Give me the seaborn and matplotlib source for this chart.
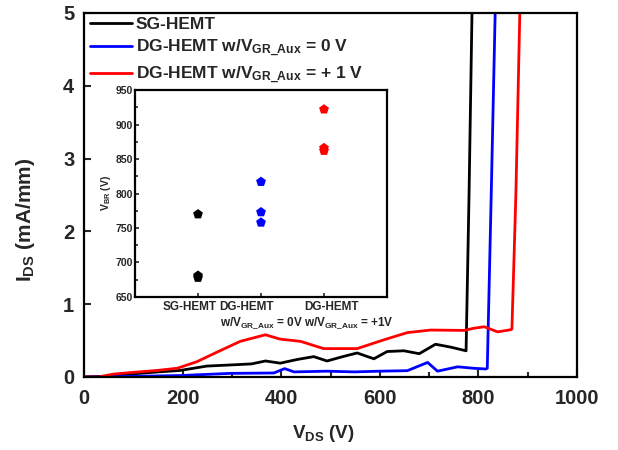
import numpy as np
import pandas as pd
import matplotlib
matplotlib.use("Agg")
import matplotlib.pyplot as plt
from matplotlib.ticker import MultipleLocator
from matplotlib.transforms import ScaledTranslation
import seaborn as sns

# ---- output characteristics (I_DS vs V_DS) ----
v_sg = [0, 40, 93, 150, 195, 249, 311, 340, 368, 398, 432, 466, 493, 525,
        554, 588, 615, 649, 680, 713, 744, 775, 781, 787]
i_sg = [0.0, 0.01, 0.04, 0.07, 0.09, 0.15, 0.17, 0.18, 0.22, 0.19, 0.24, 0.28,
        0.22, 0.28, 0.33, 0.25, 0.35, 0.36, 0.32, 0.45, 0.41, 0.36, 2.5, 5.0]

v_dg0 = [0, 60, 195, 297, 385, 407, 426, 493, 548, 600, 656, 697, 717, 758,
         790, 815, 818, 826, 834]
i_dg0 = [0.0, 0.005, 0.02, 0.05, 0.055, 0.115, 0.07, 0.08, 0.07, 0.08, 0.087,
         0.2, 0.08, 0.14, 0.12, 0.11, 0.12, 2.5, 5.0]

v_dg1 = [0, 30, 60, 93, 148, 189, 229, 263, 317, 368, 398, 439, 486, 554, 608,
         656, 703, 771, 791, 812, 839, 866, 868, 876, 884]
i_dg1 = [0.0, 0.0, 0.04, 0.06, 0.09, 0.12, 0.21, 0.32, 0.49, 0.58, 0.52, 0.49,
         0.39, 0.39, 0.51, 0.61, 0.645, 0.64, 0.67, 0.69, 0.62, 0.65, 0.66, 2.5, 5.0]

series_labels = ["SG-HEMT",
                 r"DG-HEMT w/V$_{GR\_Aux}$ = 0 V",
                 r"DG-HEMT w/V$_{GR\_Aux}$ = + 1 V"]
series_colors = ["#000000", "#0000FF", "#FF0000"]

# ---- breakdown voltage (inset) ----
devices = ["SG-HEMT",
           "DG-HEMT\n" + r"w/V$_{GR\_Aux}$ = 0V",
           "DG-HEMT\n" + r"w/V$_{GR\_Aux}$ = +1V"]
vbr_sg = [770, 678, 681]
vbr_dg0 = [817, 773, 758]
vbr_dg1 = [922, 862, 866]

sns.set_style("ticks")
plt.rcParams["font.family"] = ["Liberation Sans", "DejaVu Sans"]
plt.rcParams["font.weight"] = "bold"
plt.rcParams["axes.labelweight"] = "bold"
plt.rcParams["mathtext.fontset"] = "custom"
plt.rcParams["mathtext.rm"] = "Liberation Sans:bold"
plt.rcParams["mathtext.it"] = "Liberation Sans:bold"
plt.rcParams["mathtext.bf"] = "Liberation Sans:bold"

W, H = 618, 450
fig = plt.figure(figsize=(W / 100, H / 100), dpi=100)
ax_w, ax_h = 577 - 84, 377 - 13
ax = fig.add_axes([84 / W, 1 - 377 / H, ax_w / W, ax_h / H])

curves = pd.concat([
    pd.DataFrame({"V": v_sg, "I": i_sg, "dev": series_labels[0]}),
    pd.DataFrame({"V": v_dg0, "I": i_dg0, "dev": series_labels[1]}),
    pd.DataFrame({"V": v_dg1, "I": i_dg1, "dev": series_labels[2]}),
], ignore_index=True)

sns.lineplot(data=curves, x="V", y="I", hue="dev", hue_order=series_labels,
             palette=series_colors, sort=False, estimator=None, linewidth=2.0,
             ax=ax)

ax.set_xlim(0, 1000)
ax.set_ylim(0, 5)
ax.xaxis.set_major_locator(MultipleLocator(200))
ax.xaxis.set_minor_locator(MultipleLocator(100))
ax.yaxis.set_major_locator(MultipleLocator(1))
ax.tick_params(which="both", direction="in", width=1.5, labelsize=14.5,
               top=False, right=False)
ax.tick_params(which="major", length=5)
ax.tick_params(which="minor", length=3.5)
ax.tick_params(axis="x", pad=9)
ax.tick_params(axis="y", pad=7)
for s in ax.spines.values():
    s.set_linewidth(1.6)
    s.set_color("black")
ax.set_xlabel(r"V$_{DS}$ (V)", fontsize=13.5)
ax.set_ylabel(r"I$_{DS}$ (mA/mm)", fontsize=15)
ax.xaxis.set_label_coords((323 - 84) / ax_w, (377 - 423) / ax_h)
ax.yaxis.set_label_coords((37 - 84) / ax_w, (377 - 220) / ax_h)

handles, labels = ax.get_legend_handles_labels()
leg = ax.legend(handles, labels, loc="upper left",
                bbox_to_anchor=(6 / ax_w, 1.0 - 4 / ax_h),
                frameon=False, fontsize=12.5, handlelength=2.4,
                handletextpad=0.25, borderaxespad=0, borderpad=0,
                labelspacing=0.3)
for line in leg.get_lines():
    line.set_linewidth(2.0)

# ---- inset ----
ins = fig.add_axes([135 / W, 1 - 297 / H, 252 / W, 207 / H])
points = pd.DataFrame({
    "device": [devices[0]] * len(vbr_sg) + [devices[1]] * len(vbr_dg0)
              + [devices[2]] * len(vbr_dg1),
    "vbr": vbr_sg + vbr_dg0 + vbr_dg1,
})
sns.scatterplot(data=points, x="device", y="vbr", hue="device",
                hue_order=devices, palette=series_colors, marker="p", s=55,
                linewidth=0, legend=False, ax=ins)
ins.set_xlim(-1, 3)
ins.set_ylim(650, 950)
ins.yaxis.set_major_locator(MultipleLocator(50))
ins.yaxis.set_minor_locator(MultipleLocator(25))
ins.tick_params(which="both", direction="in", width=1.2, top=False, right=False)
ins.tick_params(which="major", length=3)
ins.tick_params(which="minor", length=2)
ins.tick_params(axis="y", labelsize=7.5, pad=1.5)
ins.tick_params(axis="x", labelsize=8.5, pad=3)
for s in ins.spines.values():
    s.set_linewidth(1.6)
    s.set_color("black")
ins.set_xlabel("")
ins.set_ylabel(r"V$_{BR}$ (V)", fontsize=7.5, labelpad=2)

# category labels: lines left-aligned, blocks nudged sideways
fig.canvas.draw()
shifts_px = [-8, 0, 25]
for lbl, dx in zip(ins.get_xticklabels(), shifts_px):
    lbl.set_multialignment("left")
    lbl.set_transform(lbl.get_transform()
                      + ScaledTranslation(dx / 100, 0, fig.dpi_scale_trans))

fig.savefig("out.png", dpi=100)
